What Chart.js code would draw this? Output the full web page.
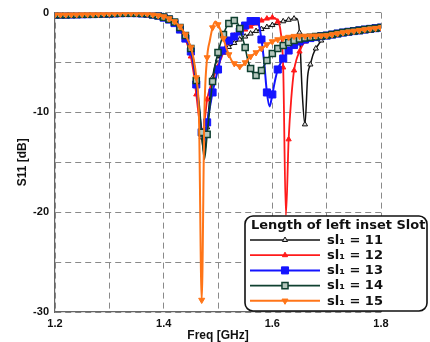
<!DOCTYPE html>
<html>
<head>
<meta charset="utf-8">
<script src="https://cdn.jsdelivr.net/npm/chart.js@4.4.1/dist/chart.umd.min.js"></script>
<style>
  html, body { margin: 0; padding: 0; background: #ffffff; }
  #wrap { width: 430px; height: 342px; position: relative; }
</style>
</head>
<body>
<div id="wrap"><canvas id="c" width="430" height="342"></canvas></div>
<script>
// ---------------- DATA ----------------
const freq = [
  1.20,1.21,1.22,1.23,1.24,1.25,1.26,1.27,1.28,1.29,
  1.30,1.31,1.32,1.33,1.34,1.35,1.36,1.37,1.38,1.39,
  1.40,1.41,1.42,1.43,1.44,
  1.445,1.45,1.455,1.46,1.465,1.47,1.475,1.48,1.485,1.49,
  1.495,1.50,1.505,1.51,1.515,1.52,1.525,1.53,1.535,1.54,
  1.545,1.55,1.555,1.56,1.565,1.57,1.575,1.58,1.585,1.59,
  1.595,1.60,1.605,1.61,1.615,1.62,1.625,1.63,1.635,1.64,
  1.645,1.65,1.655,1.66,1.665,1.67,1.675,1.68,1.685,1.69,
  1.695,1.70,
  1.71,1.72,1.73,1.74,1.75,1.76,1.77,1.78,1.79,1.80
];

const sh11 = [
  -0.2,-0.2,-0.2,-0.19,-0.18,-0.17,-0.16,-0.15,-0.14,-0.12,
  -0.1,-0.08,-0.06,-0.05,-0.05,-0.06,-0.08,-0.12,-0.2,-0.3,
  -0.45,-0.65,-0.95,-1.5,-2.3,
  -2.8,-3.6,-5.0,-7.0,-9.5,-12.5,-14.2,-11.5,-8.5,-6.5,
  -5.2,-4.7,-4.3,-4.0,-3.7,-3.45,-3.25,-3.05,-2.85,-2.7,
  -2.55,-2.4,-2.25,-2.1,-1.95,-1.85,-1.75,-1.65,-1.55,-1.45,
  -1.35,-1.25,-1.15,-1.05,-0.95,-0.87,-0.8,-0.72,-0.66,-0.6,
  -0.6,-2.0,-8.0,-11.2,-6.4,-5.2,-4.2,-3.6,-3.2,-2.8,
  -2.55,-2.35,
  -2.2,-2.1,-2.0,-1.92,-1.85,-1.78,-1.7,-1.63,-1.56,-1.5
];

const sh12 = [
  -0.2,-0.2,-0.2,-0.19,-0.18,-0.17,-0.16,-0.15,-0.14,-0.12,
  -0.1,-0.08,-0.06,-0.05,-0.05,-0.06,-0.08,-0.12,-0.2,-0.3,
  -0.5,-0.75,-1.1,-1.8,-2.7,
  -3.4,-4.4,-6.0,-8.2,-10.5,-12.2,-11.0,-8.7,-7.6,-6.8,
  -6.0,-5.4,-4.7,-4.0,-3.4,-2.9,-2.6,-2.3,-2.1,-1.9,
  -1.8,-1.7,-1.55,-1.4,-1.25,-1.1,-0.95,-0.8,-0.7,-0.6,
  -0.55,-0.5,-0.55,-0.9,-1.8,-5.5,-20.3,-12.7,-8.5,-5.8,
  -4.6,-3.9,-3.3,-2.9,-2.7,-2.6,-2.5,-2.45,-2.4,-2.35,
  -2.32,-2.3,
  -2.2,-2.1,-2.0,-1.92,-1.85,-1.78,-1.7,-1.63,-1.56,-1.5
];

const sh13 = [
  -0.2,-0.2,-0.2,-0.19,-0.18,-0.17,-0.16,-0.15,-0.14,-0.12,
  -0.1,-0.08,-0.06,-0.05,-0.05,-0.06,-0.08,-0.12,-0.2,-0.3,
  -0.5,-0.7,-1.05,-1.7,-2.6,
  -3.1,-3.9,-5.2,-7.2,-9.6,-12.0,-12.8,-11.0,-9.5,-8.0,
  -6.8,-5.7,-4.5,-3.8,-3.2,-2.8,-2.6,-2.4,-2.2,-1.9,
  -1.6,-1.3,-1.0,-0.85,-0.8,-0.85,-1.2,-2.7,-5.0,-8.0,
  -9.4,-8.2,-6.8,-5.7,-5.1,-4.6,-4.2,-3.8,-3.5,-3.25,
  -3.05,-2.9,-2.8,-2.7,-2.62,-2.55,-2.5,-2.45,-2.4,-2.35,
  -2.32,-2.3,
  -2.2,-2.1,-2.0,-1.92,-1.85,-1.78,-1.7,-1.63,-1.56,-1.5
];

const sh14 = [
  -0.2,-0.2,-0.2,-0.19,-0.18,-0.17,-0.16,-0.15,-0.14,-0.12,
  -0.1,-0.08,-0.06,-0.05,-0.05,-0.06,-0.08,-0.12,-0.2,-0.3,
  -0.45,-0.65,-0.95,-1.5,-2.3,
  -2.8,-3.6,-4.8,-6.8,-9.0,-12.0,-14.7,-12.2,-9.5,-6.9,
  -5.2,-4.0,-3.0,-2.2,-1.5,-1.1,-0.9,-0.8,-0.95,-1.6,
  -2.5,-3.5,-4.8,-5.6,-6.1,-6.3,-6.2,-5.8,-5.3,-4.8,
  -4.4,-4.1,-3.85,-3.6,-3.45,-3.3,-3.15,-3.0,-2.9,-2.8,
  -2.7,-2.65,-2.6,-2.55,-2.5,-2.47,-2.44,-2.41,-2.38,-2.35,
  -2.32,-2.3,
  -2.2,-2.1,-2.0,-1.92,-1.85,-1.78,-1.7,-1.63,-1.56,-1.5
];

const sh15 = [
  -0.2,-0.2,-0.2,-0.19,-0.18,-0.17,-0.16,-0.15,-0.14,-0.12,
  -0.1,-0.08,-0.06,-0.05,-0.05,-0.06,-0.08,-0.12,-0.2,-0.3,
  -0.4,-0.6,-0.9,-1.4,-2.2,
  -2.8,-3.5,-4.6,-6.5,-10.5,-28.8,-10.0,-4.5,-2.8,-1.5,
  -0.9,-1.2,-1.8,-2.6,-3.5,-4.2,-4.8,-5.1,-5.3,-5.4,
  -5.3,-5.0,-4.7,-4.4,-4.2,-4.0,-3.8,-3.6,-3.4,-3.2,
  -3.05,-2.9,-2.8,-2.7,-2.62,-2.55,-2.5,-2.45,-2.4,-2.36,
  -2.36,-2.35,-2.35,-2.34,-2.34,-2.33,-2.33,-2.32,-2.32,-2.31,
  -2.31,-2.3,
  -2.2,-2.1,-2.0,-1.92,-1.85,-1.78,-1.7,-1.63,-1.56,-1.5
];

const seriesLabels = ['sl\u2081 = 11', 'sl\u2081 = 12', 'sl\u2081 = 13', 'sl\u2081 = 14', 'sl\u2081 = 15'];
const legendTitle = 'Length of left inset Slot';
const xTicks = [1.2, 1.3, 1.4, 1.5, 1.6, 1.7, 1.8];
const xTickLabels = ['1.2', '', '1.4', '', '1.6', '', '1.8'];
const yTicks = [-30, -25, -20, -15, -10, -5, 0];
const yTickLabels = ['-30', '', '-20', '', '-10', '', '0'];
const xTitle = 'Freq [GHz]';
const yTitle = 'S11 [dB]';

// ---------------- STYLES ----------------
const styles = [
  { color: '#111111', fill: '#dddddd', point: 'triangle', rot: 0,   r: 3.0, bw: 1,   lw: 1.5, order: 5 },
  { color: '#ff1a1a', fill: '#ff1a1a', point: 'triangle', rot: 0,   r: 3.0, bw: 1,   lw: 1.8, order: 4 },
  { color: '#1414ff', fill: '#1414ff', point: 'rect',     rot: 0,   r: 5.0, bw: 1,   lw: 2,   order: 3 },
  { color: '#0f4030', fill: '#b4c6bc', point: 'rect',     rot: 0,   r: 4.3, bw: 1.5, lw: 1.6, order: 2 },
  { color: '#ff7518', fill: '#ff7518', point: 'triangle', rot: 180, r: 3.5, bw: 1,   lw: 2,   order: 1 }
];
const seriesValues = [sh11, sh12, sh13, sh14, sh15];

function isMarker(i) {
  const v = freq[i] * 100;
  return Math.abs(v - Math.round(v)) < 1e-6;
}

const datasets = seriesValues.map((vals, k) => {
  const s = styles[k];
  return {
    label: seriesLabels[k],
    data: vals.map((y, i) => ({ x: freq[i], y: y })),
    borderColor: s.color,
    backgroundColor: s.fill,
    borderWidth: s.lw,
    pointStyle: s.point,
    rotation: s.rot,
    pointRadius: (c) => isMarker(c.dataIndex) ? s.r : 0,
    pointBorderColor: s.color,
    pointBackgroundColor: s.fill,
    pointBorderWidth: s.bw,
    pointHoverRadius: 0,
    cubicInterpolationMode: 'monotone',
    order: s.order,
    fill: false
  };
});

// ---------------- LEGEND (inside plot) ----------------
const insetLegend = {
  id: 'insetLegend',
  afterDraw(chart) {
    const ctx = chart.ctx;
    const x0 = 245, y0 = 216, w = 182, h = 95, r = 8;
    ctx.save();
    ctx.beginPath();
    ctx.moveTo(x0 + r, y0);
    ctx.lineTo(x0 + w - r, y0);
    ctx.arcTo(x0 + w, y0, x0 + w, y0 + r, r);
    ctx.lineTo(x0 + w, y0 + h - r);
    ctx.arcTo(x0 + w, y0 + h, x0 + w - r, y0 + h, r);
    ctx.lineTo(x0 + r, y0 + h);
    ctx.arcTo(x0, y0 + h, x0, y0 + h - r, r);
    ctx.lineTo(x0, y0 + r);
    ctx.arcTo(x0, y0, x0 + r, y0, r);
    ctx.closePath();
    ctx.fillStyle = '#ffffff';
    ctx.fill();
    ctx.lineWidth = 1.6;
    ctx.strokeStyle = '#111111';
    ctx.stroke();

    ctx.fillStyle = '#111111';
    ctx.textBaseline = 'middle';
    ctx.textAlign = 'left';
    ctx.font = 'bold 13px "DejaVu Sans"';
    ctx.fillText(legendTitle, 251, 226);

    seriesLabels.forEach((lab, k) => {
      const s = styles[k];
      const y = 240 + k * 15.2;
      ctx.beginPath();
      ctx.lineWidth = s.lw;
      ctx.strokeStyle = s.color;
      ctx.moveTo(250, y);
      ctx.lineTo(320, y);
      ctx.stroke();
      ctx.fillStyle = s.fill;
      ctx.strokeStyle = s.color;
      ctx.lineWidth = s.bw;
      Chart.helpers.drawPoint(ctx, { pointStyle: s.point, rotation: s.rot, radius: s.r, borderWidth: s.bw }, 285, y);
      ctx.fillStyle = '#111111';
      ctx.font = 'bold 13px "DejaVu Sans"';
      ctx.fillText(lab, 327, y + 0.5);
    });
    ctx.restore();
  }
};

const tickFont = { family: '"Liberation Sans", Arial, sans-serif', size: 11, weight: 'bold' };
const titleFont = { family: '"Liberation Sans", Arial, sans-serif', size: 12, weight: 'bold' };

new Chart(document.getElementById('c'), {
  type: 'line',
  data: { datasets: datasets },
  options: {
    responsive: false,
    animation: false,
    devicePixelRatio: 1,
    layout: { padding: { top: 7, right: 49, left: 0, bottom: 0 } },
    plugins: { legend: { display: false }, tooltip: { enabled: false } },
    scales: {
      x: {
        type: 'linear',
        min: 1.2, max: 1.8,
        afterBuildTicks: (sc) => { sc.ticks = xTicks.map(v => ({ value: v })); },
        afterFit: (sc) => { sc.height = 30; },
        ticks: {
          autoSkip: false, maxRotation: 0, padding: 5, color: '#111',
          font: tickFont,
          callback: (v, i) => xTickLabels[i]
        },
        grid: { color: '#8a8a8a', lineWidth: 1, drawTicks: false },
        border: { display: true, color: '#666', width: 1.2, dash: [6, 4] },
        title: { display: true, text: xTitle, color: '#111', font: titleFont, padding: { top: 0, bottom: -1 } }
      },
      y: {
        type: 'linear',
        min: -30, max: 0,
        afterBuildTicks: (sc) => { sc.ticks = yTicks.map(v => ({ value: v })); },
        afterFit: (sc) => { sc.width = 55; },
        ticks: {
          autoSkip: false, padding: 6, color: '#111',
          font: tickFont,
          callback: (v, i) => yTickLabels[i]
        },
        grid: { color: '#8a8a8a', lineWidth: 1, drawTicks: false },
        border: { display: true, color: '#666', width: 1.2, dash: [6, 4] },
        title: { display: true, text: yTitle, color: '#111', font: titleFont, padding: { top: 15, bottom: 0 } }
      }
    }
  },
  plugins: [insetLegend]
});
</script>
</body>
</html>
